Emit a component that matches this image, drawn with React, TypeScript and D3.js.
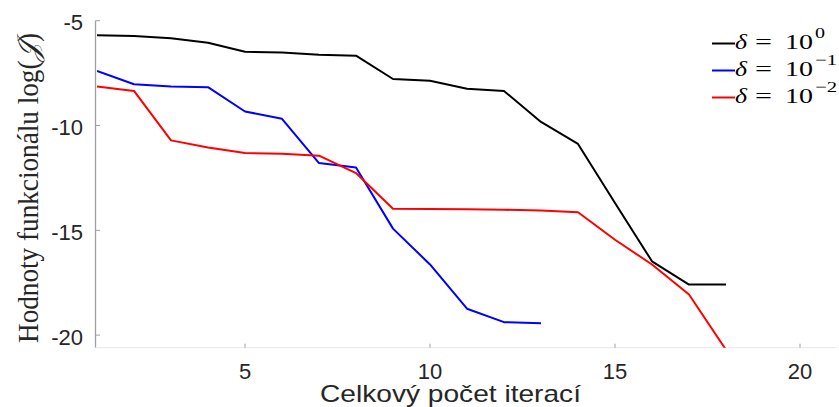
import React from "react";
import * as d3 from "d3";

const iterations = [1, 2, 3, 4, 5, 6, 7, 8, 9, 10, 11, 12, 13, 14, 15, 16, 17, 18];
const seriesDelta0 = [-5.70, -5.73, -5.84, -6.05, -6.48, -6.52, -6.63, -6.67, -7.78, -7.86, -8.25, -8.35, -9.83, -10.88, -13.70, -16.48, -17.59, -17.59];
const seriesDelta1 = [-7.40, -8.03, -8.14, -8.17, -9.33, -9.68, -11.79, -12.00, -14.92, -16.63, -18.74, -19.38, -19.43];
const seriesDelta2 = [-8.14, -8.35, -10.71, -11.05, -11.31, -11.35, -11.44, -12.27, -13.97, -13.98, -14.00, -14.02, -14.05, -14.14, -15.45, -16.63, -18.06, -20.70];
const xTicks = [5, 10, 15, 20];
const yTicks = [-5, -10, -15, -20];
const legendExponents = ["0", "−1", "−2"];
const colors = ["#000000", "#0000ff", "#ff0000"];

const W = 839;
const H = 407;

export default function App() {
  const x = d3.scaleLinear().domain([1, 21]).range([97, 837]);
  const y = d3.scaleLinear().domain([-20.6, -5]).range([347.7, 20.7]);
  const series = [seriesDelta0, seriesDelta1, seriesDelta2];
  const line = d3
    .line<number>()
    .x((_, i) => x(iterations[i]))
    .y((d) => y(d));
  const axisColor = "#a0a0a0";
  const tickColor = "#262626";
  const sans = "Liberation Sans, Arial, sans-serif";
  const serif = "Liberation Serif, DejaVu Serif, serif";
  return (
    <svg
      width={W}
      height={H}
      style={{ position: "absolute", left: 0, top: 0, background: "#fff" }}
    >
      <defs>
        <clipPath id="plot">
          <rect x={x(1)} y={y(-5)} width={x(21) - x(1)} height={y(-20.6) - y(-5)} />
        </clipPath>
      </defs>
      {/* axes */}
      <line x1={x(1) - 1.5} x2={x(1) - 1.5} y1={y(-5)} y2={y(-20.6)} stroke={axisColor} strokeWidth={1.3} />
      <line x1={x(1) - 1.5} x2={x(21)} y1={y(-20.6)} y2={y(-20.6)} stroke="#e8e8e8" strokeWidth={1} />
      {yTicks.map((t) => (
        <g key={"y" + t}>
          <line x1={x(1) - 1.5} x2={x(1) + 3} y1={y(t)} y2={y(t)} stroke={axisColor} strokeWidth={1} />
          <text
            x={83}
            y={y(t) + 9.5}
            textAnchor="end"
            fontFamily={sans}
            fontSize={22}
            fill={tickColor}
          >
            {t < 0 ? "-" + Math.abs(t) : t}
          </text>
        </g>
      ))}
      {xTicks.map((t) => (
        <g key={"x" + t}>
          <line x1={x(t)} x2={x(t)} y1={y(-20.6)} y2={y(-20.6) - 4} stroke={axisColor} strokeWidth={1} />
          <text
            x={x(t)}
            y={379}
            textAnchor="middle"
            fontFamily={sans}
            fontSize={22}
            fill={tickColor}
          >
            {t}
          </text>
        </g>
      ))}
      <text
        x={320}
        y={402}
        fontFamily={sans}
        fontSize={24}
        textLength={261}
        lengthAdjust="spacingAndGlyphs"
        fill={tickColor}
      >
        Celkový počet iterací
      </text>
      <text
        transform="translate(38, 188) rotate(-90) scale(1, 1.15)"
        textAnchor="middle"
        fontFamily={serif}
        fontSize={26}
        textLength={310}
        lengthAdjust="spacingAndGlyphs"
        fill={tickColor}
      >
        Hodnoty funkcionálu log(<tspan fontStyle="italic">𝒥</tspan>)
      </text>
      {/* lines */}
      <g clipPath="url(#plot)">
        {series.map((s, k) => (
          <path key={k} d={line(s) || ""} fill="none" stroke={colors[k]} strokeWidth={2} strokeLinejoin="round" />
        ))}
      </g>
      {/* legend */}
      {legendExponents.map((e, k) => {
        const ly = 43.5 + k * 27;
        const base = ly + 5;
        return (
          <g key={"l" + k} fontFamily={serif} fill="#000">
            <line x1={712} x2={735} y1={ly} y2={ly} stroke={colors[k]} strokeWidth={2} />
            <text x={735} y={base} fontSize={22} fontStyle="italic" textLength={12} lengthAdjust="spacingAndGlyphs">
              δ
            </text>
            <text x={755} y={base} fontSize={22} textLength={17} lengthAdjust="spacingAndGlyphs">
              =
            </text>
            <text x={785} y={base} fontSize={22} textLength={28} lengthAdjust="spacingAndGlyphs">
              10
            </text>
            <text
              x={815}
              y={base - 11}
              fontSize={15}
              textLength={e.length > 1 ? 22 : 10}
              lengthAdjust="spacingAndGlyphs"
            >
              {e}
            </text>
          </g>
        );
      })}
    </svg>
  );
}
